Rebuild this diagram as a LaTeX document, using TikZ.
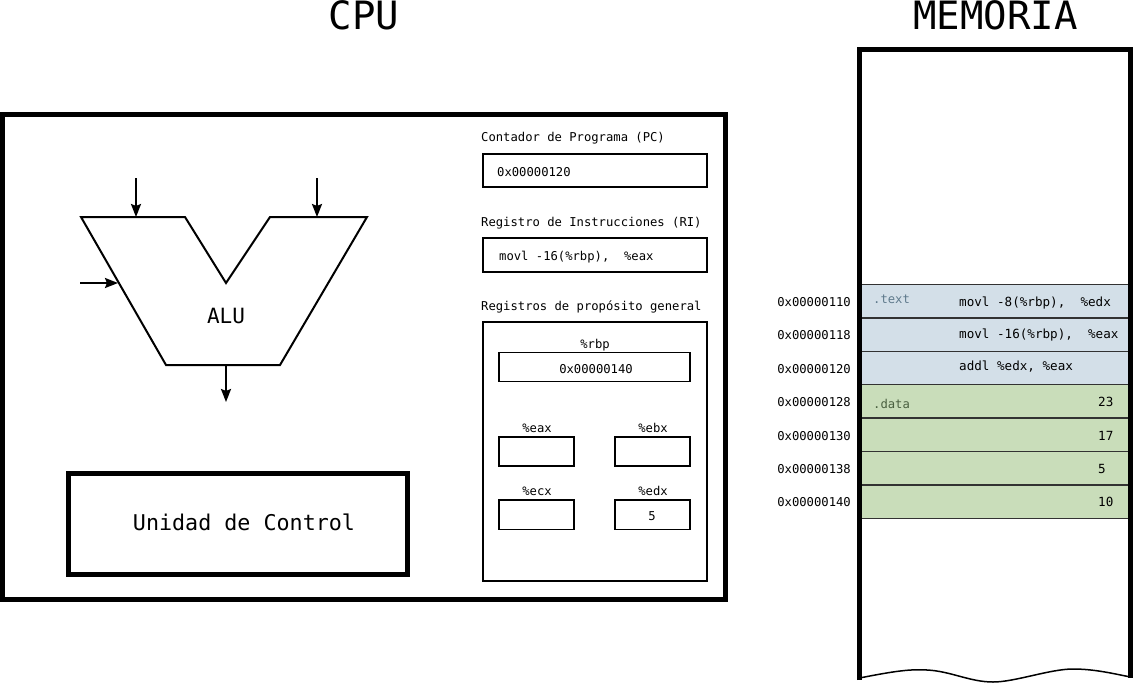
\documentclass[tikz,border=0pt]{standalone}
\usepackage{fontspec}
\setmainfont{DejaVu Sans Mono}
\usepackage{tikz}
\usetikzlibrary{arrows.meta}
\definecolor{textseg}{RGB}{211, 223, 232}
\definecolor{dataseg}{RGB}{201, 221, 186}
\definecolor{textlbl}{RGB}{95, 122, 140}
\definecolor{datalbl}{RGB}{74, 96, 64}
\definecolor{cellline}{RGB}{50, 50, 50}
\tikzset{
  thickline/.style={line width=5},
  regline/.style={line width=2},
  aluarrow/.style={-{Stealth[length=13pt, width=10pt, inset=2pt]}, line width=2.2},
  lbl/.style={inner sep=0, font=\fontsize{12.2}{14}\selectfont},
  memlbl/.style={inner sep=0, font=\fontsize{12.6}{14}\selectfont},
  bigtitle/.style={inner sep=0, font=\fontsize{39}{44}\selectfont}
}
\begin{document}
\begin{tikzpicture}[x=1pt, y=-1pt]

  \pgfmathsetmacro{\ma}{859.5};
  \pgfmathsetmacro{\mb}{1130.5};
  \pgfmathsetmacro{\rh}{33.4};
  \pgfmathsetmacro{\ry}{284.5};

  \useasboundingbox (0, 0) rectangle (1134, 683);

  \node[bigtitle, anchor=base] (cputitle) at (364, 29) {CPU};
  \node[bigtitle, anchor=base] (memtitle) at (995.5, 29) {MEMORIA};

  \draw[thickline] (2.5, 114) rectangle (725.5, 599.5);

  \draw[line width=2, line join=miter] (81, 217) -- (185, 217) -- (226, 283) -- (270, 217)
    -- (367, 217) -- (280, 365) -- (166, 365) -- cycle;
  \node[inner sep=0, font=\fontsize{21}{24}\selectfont, anchor=base] (alu) at (226, 323) {ALU};

  \coordinate (ina) at (136, 217);
  \coordinate (inb) at (317, 217);
  \coordinate (inc) at (118, 283);
  \coordinate (out) at (226, 365);
  \draw[aluarrow] (136, 178) -- (ina);
  \draw[aluarrow] (317, 178) -- (inb);
  \draw[aluarrow] (80, 283) -- (inc);
  \draw[aluarrow] (out) -- +(0, 37);

  \draw[thickline] (68, 473.5) rectangle (407.5, 574.5);
  \node[inner sep=0, font=\fontsize{21.7}{24}\selectfont, anchor=base] (uc) at (244, 530) {Unidad de Control};

  \node[lbl, anchor=base west] (pclbl) at (481, 141) {Contador de Programa (PC)};
  \draw[regline] (483, 154) rectangle (707, 187);
  \node[lbl, anchor=base west] (pc) at (497, 176) {0x00000120};

  \node[lbl, anchor=base west] (rilbl) at (481, 226) {Registro de Instrucciones (RI)};
  \draw[regline] (483, 238) rectangle (707, 272);
  \node[lbl, anchor=base west] (ri) at (499, 260) {movl -16(\%rbp),\ \ \%eax};

  \node[lbl, anchor=base west] (gplbl) at (481, 310) {Registros de propósito general};
  \draw[regline] (483, 322) rectangle (707, 581);

  \node[lbl, anchor=base] (rbplbl) at (595, 348) {\%rbp};
  \draw[line width=1.6] (499, 352.5) rectangle (690, 381.5);
  \node[lbl, anchor=base] (rbp) at (596, 373) {0x00000140};

  \node[lbl, anchor=base] (eaxlbl) at (537, 432) {\%eax};
  \draw[line width=1.6] (499, 437) rectangle (574, 466);
  \node[lbl, anchor=base] (ebxlbl) at (653, 432) {\%ebx};
  \draw[line width=1.6] (615, 437) rectangle (690, 466);

  \node[lbl, anchor=base] (ecxlbl) at (537, 495) {\%ecx};
  \draw[line width=1.6] (499, 500) rectangle (574, 529.5);
  \node[lbl, anchor=base] (edxlbl) at (653, 495) {\%edx};
  \draw[line width=1.6] (615, 500) rectangle (690, 529.5);
  \node[lbl, anchor=base] (edx) at (652, 520) {5};

  \fill[textseg] (\ma, \ry) rectangle (\mb, \ry + 3*\rh);
  \fill[dataseg] (\ma, \ry + 3*\rh) rectangle (\mb, \ry + 7*\rh);
  \draw[cellline, line width=1.5] (\ma, \ry) rectangle (\mb, \ry + \rh);
  \draw[cellline, line width=1.5] (\ma, \ry + \rh) rectangle (\mb, \ry + 2*\rh);
  \draw[cellline, line width=1.5] (\ma, \ry + 2*\rh) rectangle (\mb, \ry + 3*\rh);
  \draw[cellline, line width=1.5] (\ma, \ry + 3*\rh) rectangle (\mb, \ry + 4*\rh);
  \draw[cellline, line width=1.5] (\ma, \ry + 4*\rh) rectangle (\mb, \ry + 5*\rh);
  \draw[cellline, line width=1.5] (\ma, \ry + 5*\rh) rectangle (\mb, \ry + 6*\rh);
  \draw[cellline, line width=1.5] (\ma, \ry + 6*\rh) rectangle (\mb, \ry + 7*\rh);

  \node[lbl, anchor=base east] (a110) at (851, 306) {0x00000110};
  \node[lbl, anchor=base east] (a118) at (851, 339.5) {0x00000118};
  \node[lbl, anchor=base east] (a120) at (851, 373) {0x00000120};
  \node[lbl, anchor=base east] (a128) at (851, 406.5) {0x00000128};
  \node[lbl, anchor=base east] (a130) at (851, 440) {0x00000130};
  \node[lbl, anchor=base east] (a138) at (851, 473) {0x00000138};
  \node[lbl, anchor=base east] (a140) at (851, 506.5) {0x00000140};

  \node[lbl, textlbl, anchor=base west] (textsec) at (873, 303) {.text};
  \node[lbl, datalbl, anchor=base west] (datasec) at (873, 408) {.data};

  \node[memlbl, anchor=base west] (ins1) at (959, 306) {movl -8(\%rbp),\ \ \%edx};
  \node[memlbl, anchor=base west] (ins2) at (959, 338.5) {movl -16(\%rbp),\ \ \%eax};
  \node[memlbl, anchor=base west] (ins3) at (959, 370) {addl \%edx, \%eax};

  \node[memlbl, anchor=base west] (d23) at (1098, 406.5) {23};
  \node[memlbl, anchor=base west] (d17) at (1098, 440) {17};
  \node[memlbl, anchor=base west] (d5) at (1098, 473) {5};
  \node[memlbl, anchor=base west] (d10) at (1098, 506.5) {10};

  \draw[thickline, line join=miter] (\ma, 680) -- (\ma, 49.5) -- (\mb, 49.5) -- (\mb, 678);
  \draw[line width=1.5] (\ma, 678) .. controls (895, 671) and (910, 669) .. (927, 670)
    .. controls (950, 671) and (970, 682) .. (993, 682)
    .. controls (1015, 682) and (1050, 669) .. (1073, 669)
    .. controls (1095, 669) and (1115, 674) .. (\mb, 677);

\end{tikzpicture}
\end{document}
